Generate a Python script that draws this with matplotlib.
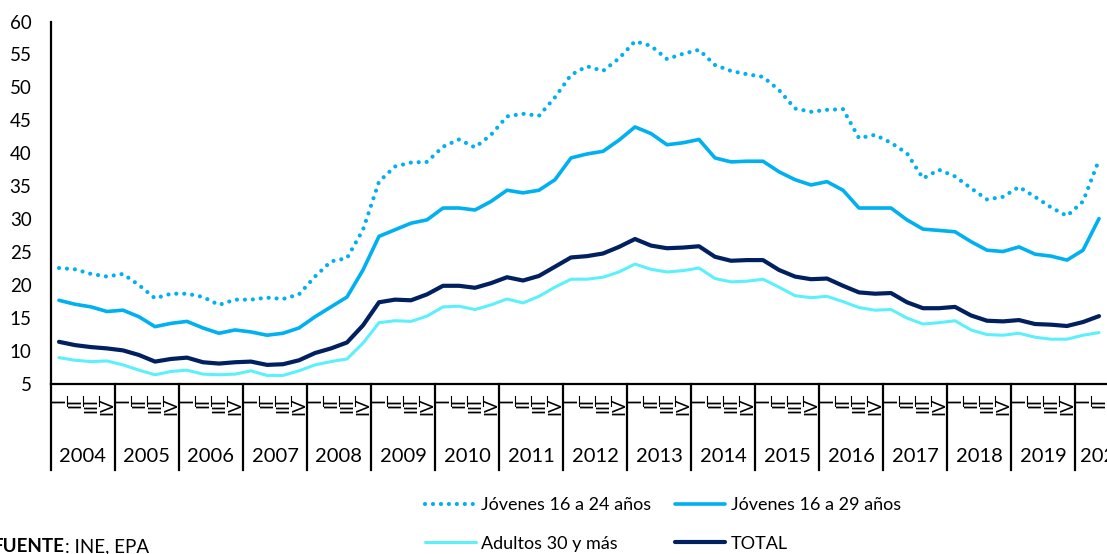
import numpy as np
import matplotlib
matplotlib.use("Agg")
import matplotlib.pyplot as plt
import matplotlib.transforms as mtransforms

plt.rcParams['font.family'] = ['Lato', 'DejaVu Sans']

# ------------------------------
# DATA (tasa de paro, %, trimestral 2004T1 - 2020T2)
# ------------------------------
years = list(range(2004, 2021))
quarters = ['I', 'II', 'III', 'IV']

jovenes_16_24 = [
    22.6, 22.4, 21.7, 21.3, 21.7, 20.0, 18.0, 18.7, 18.7, 18.2, 17.0, 17.8,
    17.8, 18.1, 17.9, 18.6, 21.3, 23.6, 24.1, 28.4, 35.7, 38.0, 38.6, 38.7,
    41.0, 42.1, 40.9, 42.8, 45.6, 46.0, 45.7, 48.5, 51.9, 53.2, 52.5, 54.4,
    57.0, 56.3, 54.3, 55.1, 55.7, 53.4, 52.5, 52.0, 51.6, 49.6, 46.8, 46.3,
    46.6, 46.7, 42.3, 42.8, 41.6, 40.0, 36.2, 37.5, 36.5, 34.7, 33.0, 33.4,
    34.9, 33.4, 31.8, 30.5, 32.7, 39.0,
]
jovenes_16_29 = [
    17.7, 17.1, 16.7, 16.0, 16.2, 15.2, 13.7, 14.2, 14.5, 13.5, 12.7, 13.2,
    12.9, 12.4, 12.7, 13.5, 15.2, 16.7, 18.2, 22.3, 27.4, 28.4, 29.4, 29.9,
    31.7, 31.7, 31.4, 32.7, 34.4, 34.0, 34.4, 36.0, 39.3, 39.9, 40.3, 42.0,
    44.0, 43.0, 41.3, 41.6, 42.1, 39.3, 38.7, 38.8, 38.8, 37.2, 36.0, 35.2,
    35.7, 34.4, 31.7, 31.7, 31.7, 29.9, 28.5, 28.3, 28.1, 26.6, 25.3, 25.1,
    25.8, 24.7, 24.4, 23.8, 25.3, 30.1,
]
adultos_30 = [
    9.0, 8.6, 8.4, 8.5, 7.9, 7.1, 6.4, 6.9, 7.1, 6.5, 6.4, 6.5,
    7.0, 6.3, 6.3, 7.0, 7.9, 8.4, 8.8, 11.2, 14.3, 14.6, 14.5, 15.3,
    16.7, 16.8, 16.3, 17.0, 17.9, 17.3, 18.3, 19.7, 20.9, 20.9, 21.2, 22.0,
    23.2, 22.4, 22.0, 22.2, 22.6, 21.0, 20.5, 20.6, 20.9, 19.7, 18.4, 18.1,
    18.3, 17.5, 16.6, 16.2, 16.3, 15.0, 14.1, 14.3, 14.6, 13.2, 12.5, 12.4,
    12.7, 12.1, 11.8, 11.8, 12.4, 12.8,
]
total = [
    11.4, 10.9, 10.6, 10.4, 10.1, 9.4, 8.4, 8.8, 9.0, 8.3, 8.1, 8.3,
    8.4, 7.9, 8.0, 8.6, 9.7, 10.4, 11.3, 13.9, 17.4, 17.8, 17.7, 18.6,
    19.9, 19.9, 19.6, 20.3, 21.2, 20.7, 21.4, 22.8, 24.2, 24.4, 24.8, 25.8,
    27.0, 26.0, 25.6, 25.7, 25.9, 24.3, 23.7, 23.8, 23.8, 22.3, 21.3, 20.9,
    21.0, 19.9, 18.9, 18.7, 18.8, 17.4, 16.5, 16.5, 16.7, 15.4, 14.6, 14.5,
    14.7, 14.1, 14.0, 13.8, 14.4, 15.3,
]

# ------------------------------
# FIGURE
# ------------------------------
W, H = 1107, 554
fig = plt.figure(figsize=(W / 100, H / 100), dpi=100)
ax = fig.add_axes([51 / W, 170 / H, 1056 / W, 362.5 / H])

n = len(total)
x = np.arange(n)

l1, = ax.plot(x, jovenes_16_24, color='#00B0F0', lw=3.0, linestyle=(0, (0.01, 1.9)),
              dash_capstyle='round', label='Jóvenes 16 a 24 años')
l2, = ax.plot(x, jovenes_16_29, color='#00B0F0', lw=2.6, solid_joinstyle='round',
              solid_capstyle='round', label='Jóvenes 16 a 29 años')
l3, = ax.plot(x, adultos_30, color='#5CF0FA', lw=2.2, solid_joinstyle='round',
              solid_capstyle='round', label='Adultos 30 y más')
l4, = ax.plot(x, total, color='#002060', lw=3.0, solid_joinstyle='round',
              solid_capstyle='round', label='TOTAL')

ax.set_xlim(-0.5, n - 0.5)
ax.set_ylim(5, 60)
ax.set_yticks(range(5, 61, 5))
ax.tick_params(axis='y', length=0, pad=14, labelsize=13.5)
ax.set_xticks([])
for s in ('top', 'right'):
    ax.spines[s].set_visible(False)
for s in ('left', 'bottom'):
    ax.spines[s].set_color('black')
    ax.spines[s].set_linewidth(1.6)

# --- two-level category axis (trimestre / año) ---
trans = mtransforms.blended_transform_factory(ax.transData, ax.transAxes)
for i in range(n):
    ax.text(i, -0.038, quarters[i % 4], transform=trans, rotation=90,
            ha='center', va='top', fontsize=13, clip_on=False)
    if i % 4 != 0:
        ax.plot([i - 0.5, i - 0.5], [-0.034, -0.062], transform=trans,
                color='black', lw=0.8, clip_on=False)

for k, yr in enumerate(years):
    xb = 4 * k - 0.5
    ax.plot([xb, xb], [0, -0.237], transform=trans, color='black', lw=1.6,
            clip_on=False)
    if 4 * k + 3 < n:
        ax.text(4 * k + 1.5, -0.201, str(yr), transform=trans, ha='center',
                va='center', fontsize=14.5, clip_on=False)
    else:
        ax.text(xb + 0.3, -0.201, str(yr), transform=trans, ha='left',
                va='center', fontsize=14.5, clip_on=False)

# --- legend ---
fig.legend([l1, l3, l2, l4], [l.get_label() for l in (l1, l3, l2, l4)],
           ncol=2, loc='upper left', bbox_to_anchor=(425 / W, 1 - 497 / H),
           frameon=False, fontsize=13, handlelength=2.8, handletextpad=0.3,
           columnspacing=1.3, labelspacing=1.25, borderpad=0, borderaxespad=0)

# --- source ---
t1 = fig.text(-7 / W, 2 / H, 'FUENTE', fontsize=13.5, fontweight='bold',
              ha='left', va='baseline')
ax.annotate(': INE, EPA', xy=(1, 0), xycoords=t1, fontsize=13.5,
            ha='left', va='bottom', annotation_clip=False)

fig.savefig('out.png', dpi=100)
